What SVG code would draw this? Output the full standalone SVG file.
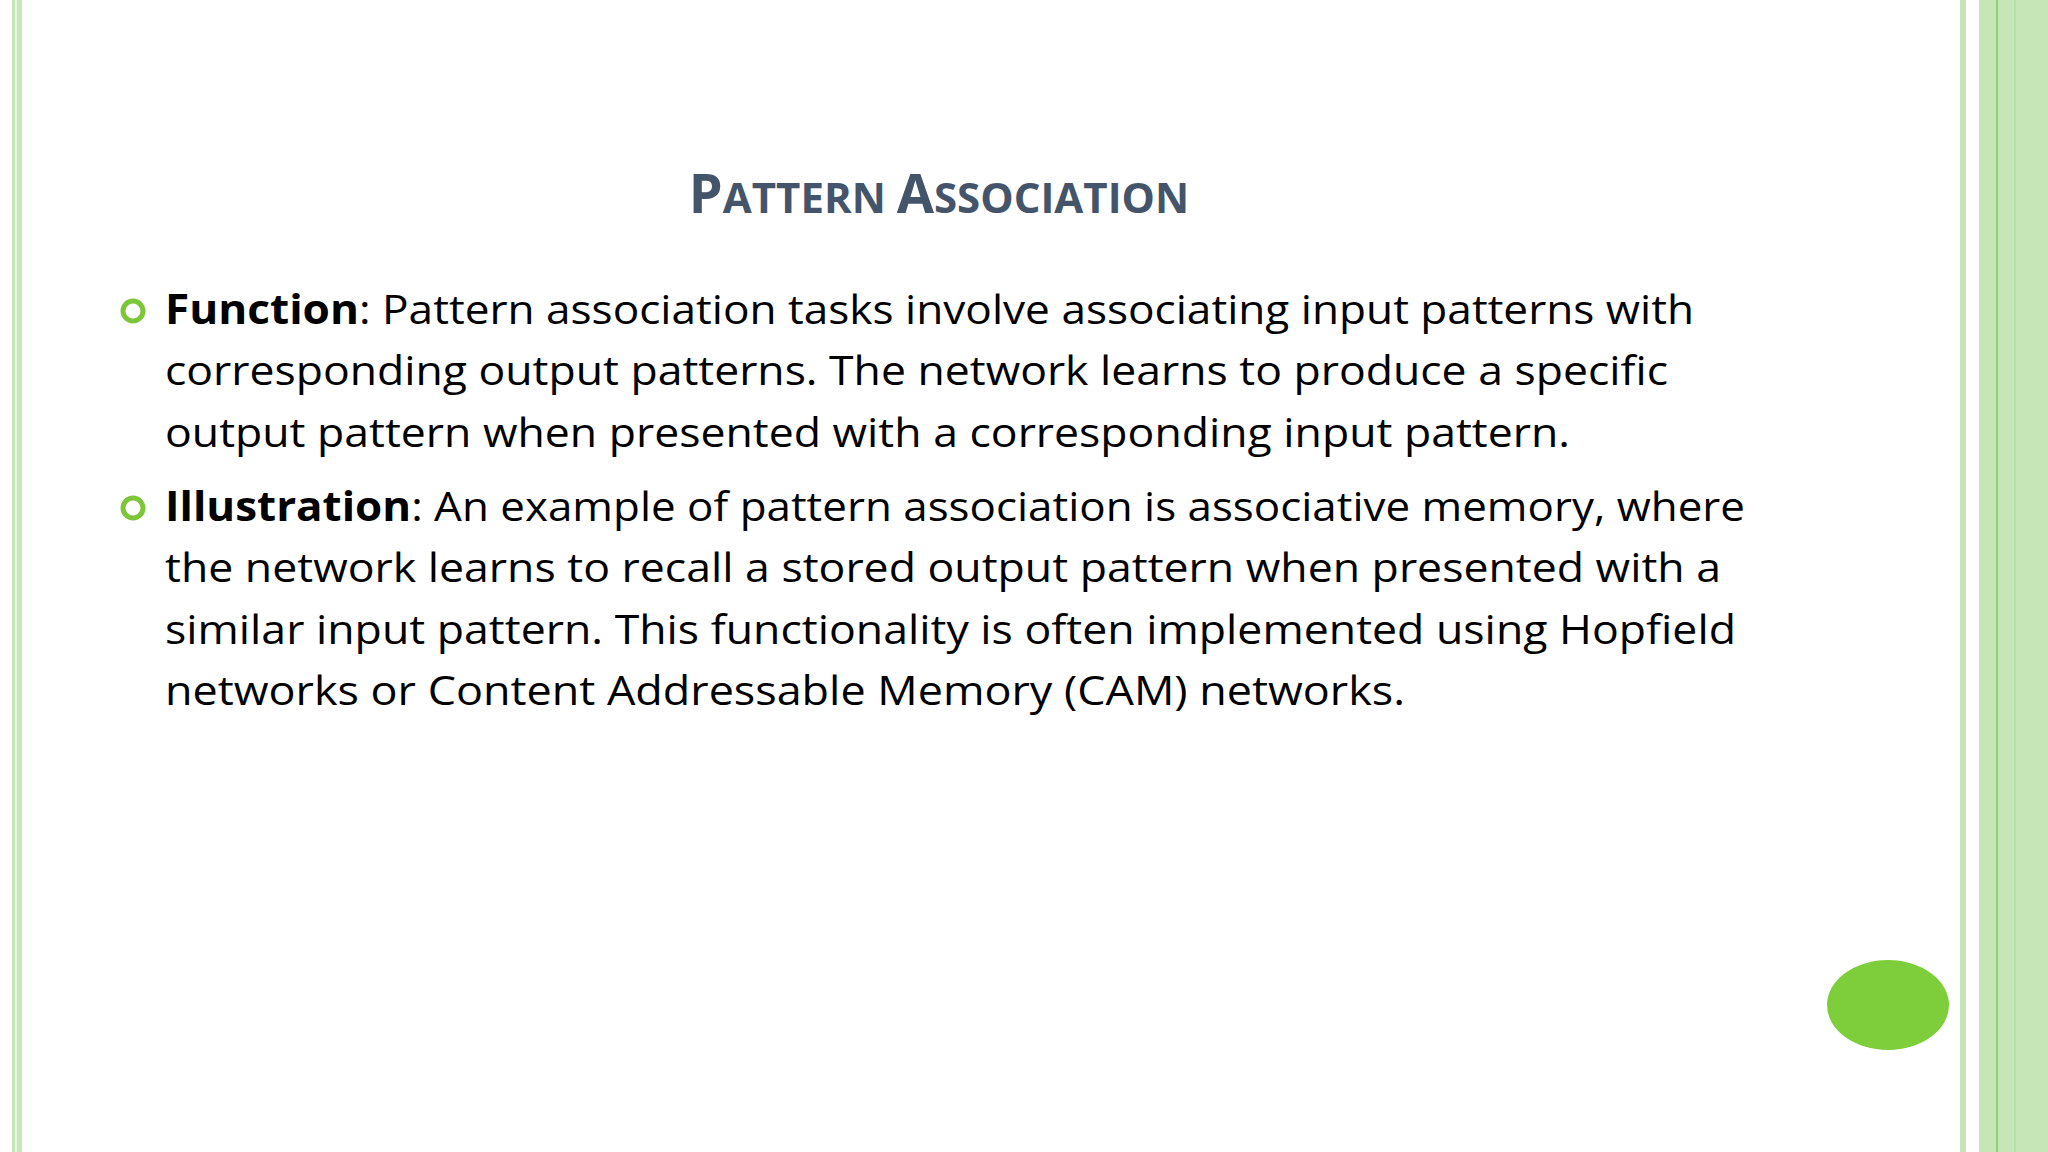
<svg xmlns="http://www.w3.org/2000/svg" width="2048" height="1152" viewBox="0 0 2048 1152">
<style>
.b{font-family:"Open Sans","Liberation Sans",sans-serif;font-size:41px;fill:#000}
.bb{font-weight:bold}
.t{font-family:"Open Sans","Liberation Sans",sans-serif;font-weight:bold;fill:#44546A}
.ring{fill:none;stroke:#7DC63A;stroke-width:5}
</style>
<rect width="2048" height="1152" fill="#fff"/>
<g id="borders">
<rect x="12" y="0" width="10" height="1152" fill="#C6E6B8"/>
<rect x="15" y="0" width="2" height="1152" fill="#E8F5E0"/>
<rect x="1960" y="0" width="6" height="1152" fill="#C6E6B8"/>
<rect x="1979" y="0" width="69" height="1152" fill="#C6E6B8"/>
<rect x="1996" y="0" width="2" height="1152" fill="#8DD470"/>
<rect x="2014" y="0" width="2" height="1152" fill="#B6DFA2"/>
</g>
<g id="title">
<text class="t" x="939" y="213" text-anchor="middle"><tspan font-size="54">P</tspan><tspan font-size="42">ATTERN </tspan><tspan font-size="54">A</tspan><tspan font-size="42">SSOCIATION</tspan></text>
</g>
<g id="bullet1">
<circle class="ring" cx="133" cy="311" r="10"/>
<text class="b" x="165" y="324" textLength="1529" lengthAdjust="spacingAndGlyphs"><tspan class="bb">Function</tspan>: Pattern association tasks involve associating input patterns with</text>
<text class="b" x="165" y="385" textLength="1503" lengthAdjust="spacingAndGlyphs">corresponding output patterns. The network learns to produce a specific</text>
<text class="b" x="165" y="447" textLength="1405" lengthAdjust="spacingAndGlyphs">output pattern when presented with a corresponding input pattern.</text>
</g>
<g id="bullet2">
<circle class="ring" cx="133" cy="508" r="10"/>
<text class="b" x="165" y="521" textLength="1580" lengthAdjust="spacingAndGlyphs"><tspan class="bb">Illustration</tspan>: An example of pattern association is associative memory, where</text>
<text class="b" x="165" y="582" textLength="1556" lengthAdjust="spacingAndGlyphs">the network learns to recall a stored output pattern when presented with a</text>
<text class="b" x="165" y="644" textLength="1571" lengthAdjust="spacingAndGlyphs">similar input pattern. This functionality is often implemented using Hopfield</text>
<text class="b" x="165" y="705" textLength="1240" lengthAdjust="spacingAndGlyphs">networks or Content Addressable Memory (CAM) networks.</text>
</g>
<g id="dot">
<ellipse cx="1888" cy="1005" rx="61" ry="45" fill="#7DCE3A"/>
</g>
</svg>
